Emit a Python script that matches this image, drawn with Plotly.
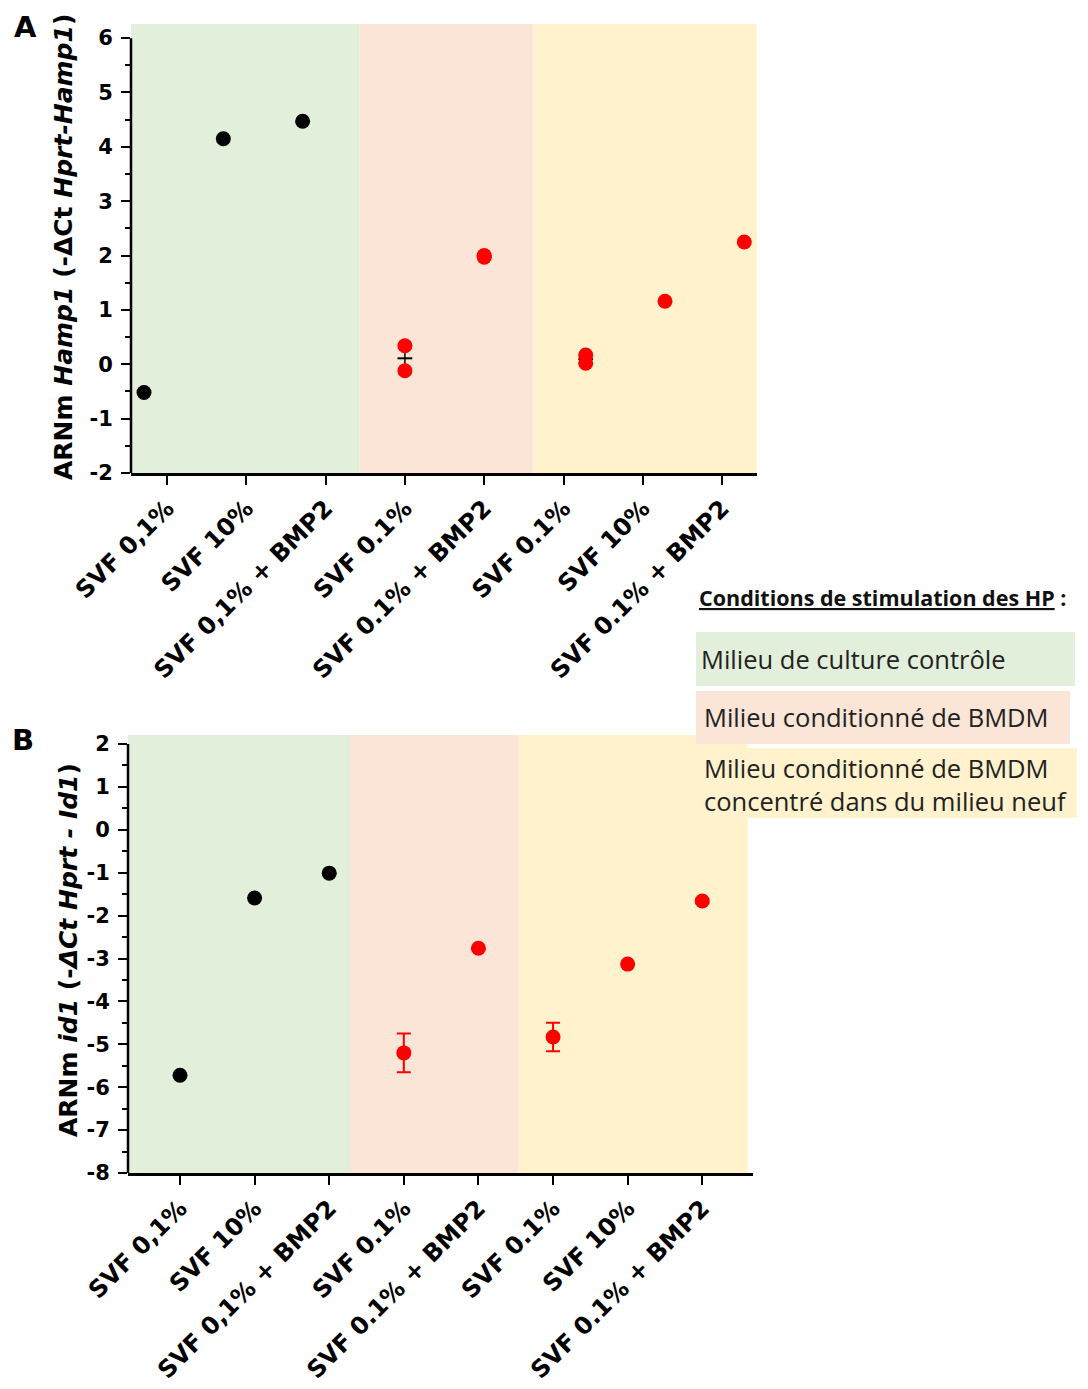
import numpy as np
import plotly.graph_objects as go

# ---------------- data ----------------
categories = ["SVF 0,1%", "SVF 10%", "SVF 0,1% + BMP2",
              "SVF 0.1%", "SVF 0.1% + BMP2",
              "SVF 0.1%", "SVF 10%", "SVF 0.1% + BMP2"]
groups = ["control", "control", "control", "bmdm", "bmdm", "conc", "conc", "conc"]

# Panel A: Hamp1 replicates per condition
hamp1_reps = [[-0.52], [4.15], [4.47],
              [0.34, -0.12], [2.00, 1.97],
              [0.17, 0.02], [1.16], [2.25]]

# Panel B: id1 mean and SEM per condition
id1_mean = [-5.72, -1.59, -1.01, -5.20, -2.76, -4.83, -3.13, -1.66]
id1_sem = [0, 0, 0, 0.45, 0, 0.33, 0, 0.05]

yticksA = [-2, -1, 0, 1, 2, 3, 4, 5, 6]
yticksB = [-8, -7, -6, -5, -4, -3, -2, -1, 0, 1, 2]

legend_title = "Conditions de stimulation des HP"
legend_labels = ["Milieu de culture contrôle",
                 "Milieu conditionné de BMDM",
                 "Milieu conditionné de BMDM<br>concentré dans du milieu neuf"]

# ---------------- style / layout ----------------
# page body has an 8 px margin: the figure is placed at (8, 8) in the window
OFF = 8
W, H = 1080, 1381
def px(x): return (x - OFF) / W
def py(y): return 1 - (y - OFF) / H

GREEN, PINK, YELLOW = "#E2EFDA", "#FBE5D6", "#FFF2CC"
band_colors = {"control": GREEN, "bmdm": PINK, "conc": YELLOW}
point_colors = {"control": "black", "bmdm": "red", "conc": "red"}
offsetA = {"control": -0.29, "bmdm": 0.0, "conc": 0.28}

FONT = "DejaVu Sans"
LFONT = "Open Sans"

fig = go.Figure()

# ---- Panel A traces ----
for g in ["control", "bmdm", "conc"]:
    xs, ys = [], []
    mx, my, me = [], [], []
    for i, (grp, reps) in enumerate(zip(groups, hamp1_reps)):
        if grp != g:
            continue
        for v in reps:
            xs.append(i + offsetA[g]); ys.append(v)
        if len(reps) > 1:
            arr = np.array(reps)
            mx.append(i + offsetA[g]); my.append(arr.mean())
            me.append(arr.std(ddof=1) / np.sqrt(len(arr)))
    if mx:
        fig.add_trace(go.Scatter(x=mx, y=my, mode="markers", xaxis="x", yaxis="y",
                                 marker=dict(symbol="line-ew", size=10.5,
                                             line=dict(color="black", width=2)),
                                 error_y=dict(type="data", array=me, color="black",
                                              thickness=1.5, width=0),
                                 showlegend=False, hoverinfo="skip"))
    fig.add_trace(go.Scatter(x=xs, y=ys, mode="markers", xaxis="x", yaxis="y",
                             marker=dict(size=15, color=point_colors[g]),
                             showlegend=False))

# ---- Panel B traces ----
for g in ["control", "bmdm", "conc"]:
    idx = [i for i, grp in enumerate(groups) if grp == g]
    fig.add_trace(go.Scatter(x=idx, y=[id1_mean[i] for i in idx], mode="markers",
                             xaxis="x2", yaxis="y2",
                             marker=dict(size=15, color=point_colors[g]),
                             error_y=dict(type="data", array=[id1_sem[i] for i in idx],
                                          color=point_colors[g], thickness=2, width=7,
                                          visible=True),
                             showlegend=False))

# ---- background bands ----
bandsA = [("control", -0.454, 2.43), ("bmdm", 2.43, 4.62), ("conc", 4.62, 7.44)]
bandsB = [("control", -0.697, 2.28), ("bmdm", 2.28, 4.53), ("conc", 4.53, 7.61)]
shapes = []
for g, a, b in bandsA:
    shapes.append(dict(type="rect", xref="x", yref="y", x0=a, x1=b, y0=-2, y1=6.26,
                       fillcolor=band_colors[g], line=dict(width=0), layer="below"))
for g, a, b in bandsB:
    shapes.append(dict(type="rect", xref="x2", yref="y2", x0=a, x1=b, y0=-8, y1=2.21,
                       fillcolor=band_colors[g], line=dict(width=0), layer="below"))
# y axis lines (stop at top tick)
shapes.append(dict(type="line", xref="x domain", yref="y", x0=0, x1=0, y0=-2, y1=6,
                   line=dict(color="black", width=2.5)))
shapes.append(dict(type="line", xref="x2 domain", yref="y2", x0=0, x1=0, y0=-8, y1=2,
                   line=dict(color="black", width=2.5)))

# legend boxes
legend_boxes = [(GREEN, 696, 1075, 632, 686), (PINK, 696, 1070, 691, 744),
                (YELLOW, 696, 1077, 748, 818)]
for col, x0, x1, y0, y1 in legend_boxes:
    shapes.append(dict(type="rect", xref="paper", yref="paper",
                       x0=px(x0), x1=px(x1), y0=py(y1), y1=py(y0),
                       fillcolor=col, line=dict(width=0), layer="above"))

annotations = []
annotations.append(dict(text="<u>" + legend_title + "</u> :", xref="paper", yref="paper",
                        x=px(697), y=py(597), xanchor="left", yanchor="middle",
                        showarrow=False,
                        font=dict(family=LFONT, size=21.5, color="#111", weight="bold")))
legend_pos = [(699, 659), (702, 717), (702, 784)]
for lab, (lx, ly) in zip(legend_labels, legend_pos):
    annotations.append(dict(text=lab, xref="paper", yref="paper", x=px(lx), y=py(ly),
                            xanchor="left", yanchor="middle", align="left",
                            showarrow=False,
                            font=dict(family=LFONT, size=25.5, color="#222")))

annotations.append(dict(text="<b>A</b>", xref="paper", yref="paper", x=px(25), y=py(8),
                        xanchor="center", yanchor="top", showarrow=False,
                        font=dict(family=FONT, size=29, color="black")))
annotations.append(dict(text="<b>B</b>", xref="paper", yref="paper", x=px(23), y=py(740),
                        xanchor="center", yanchor="middle", showarrow=False,
                        font=dict(family=FONT, size=29, color="black")))

annotations.append(dict(text="<b>ARNm <i>Hamp1</i> (-ΔCt <i>Hprt-Hamp1</i>)</b>",
                        xref="paper", yref="paper", x=px(64), y=py(247),
                        xanchor="center", yanchor="middle", textangle=-90,
                        showarrow=False, font=dict(family=FONT, size=25, color="black")))
annotations.append(dict(text="<b>ARNm <i>id1</i> (-<i>ΔCt Hprt - Id1</i>)</b>",
                        xref="paper", yref="paper", x=px(68), y=py(950),
                        xanchor="center", yanchor="middle", textangle=-90,
                        showarrow=False, font=dict(family=FONT, size=25, color="black")))

tickfont = dict(family=FONT, size=21, color="black", weight="bold")
xtickfont = dict(family=FONT, size=24, color="black", weight="bold")

def xaxis_cfg(domain, rng, anchor):
    return dict(domain=domain, range=rng, anchor=anchor, automargin=False,
                tickmode="array", tickvals=list(range(len(categories))),
                ticktext=categories, tickangle=-45, tickfont=xtickfont,
                showline=True, linecolor="black", linewidth=2.5,
                ticks="outside", ticklen=9, tickwidth=2, tickcolor="black",
                showgrid=False, zeroline=False, fixedrange=True)

def yaxis_cfg(domain, rng, anchor, ticks):
    minor_vals = [t + 0.5 for t in ticks[:-1]]
    return dict(domain=domain, range=rng, anchor=anchor, automargin=False,
                tickmode="array", tickvals=ticks, ticktext=[str(t) for t in ticks],
                tickfont=tickfont,
                showline=False, ticks="outside", ticklen=9, tickwidth=2,
                tickcolor="black", ticklabelstandoff=4,
                minor=dict(tickmode="array", tickvals=minor_vals, ticks="outside",
                           ticklen=5, tickwidth=2, tickcolor="black"),
                showgrid=False, zeroline=False, fixedrange=True)

fig.update_layout(
    width=W, height=H, margin=dict(l=0, r=0, t=0, b=0, autoexpand=False),
    paper_bgcolor="white", plot_bgcolor="rgba(0,0,0,0)",
    xaxis=xaxis_cfg([px(131), px(757)], [-0.454, 7.44], "y"),
    yaxis=yaxis_cfg([py(473), py(24)], [-2, 6.26], "x", yticksA),
    xaxis2=xaxis_cfg([px(128), px(753)], [-0.697, 7.68], "y2"),
    yaxis2=yaxis_cfg([py(1173), py(735)], [-8, 2.21], "x2", yticksB),
    shapes=shapes, annotations=annotations, showlegend=False,
)

fig.write_html("out.html")
